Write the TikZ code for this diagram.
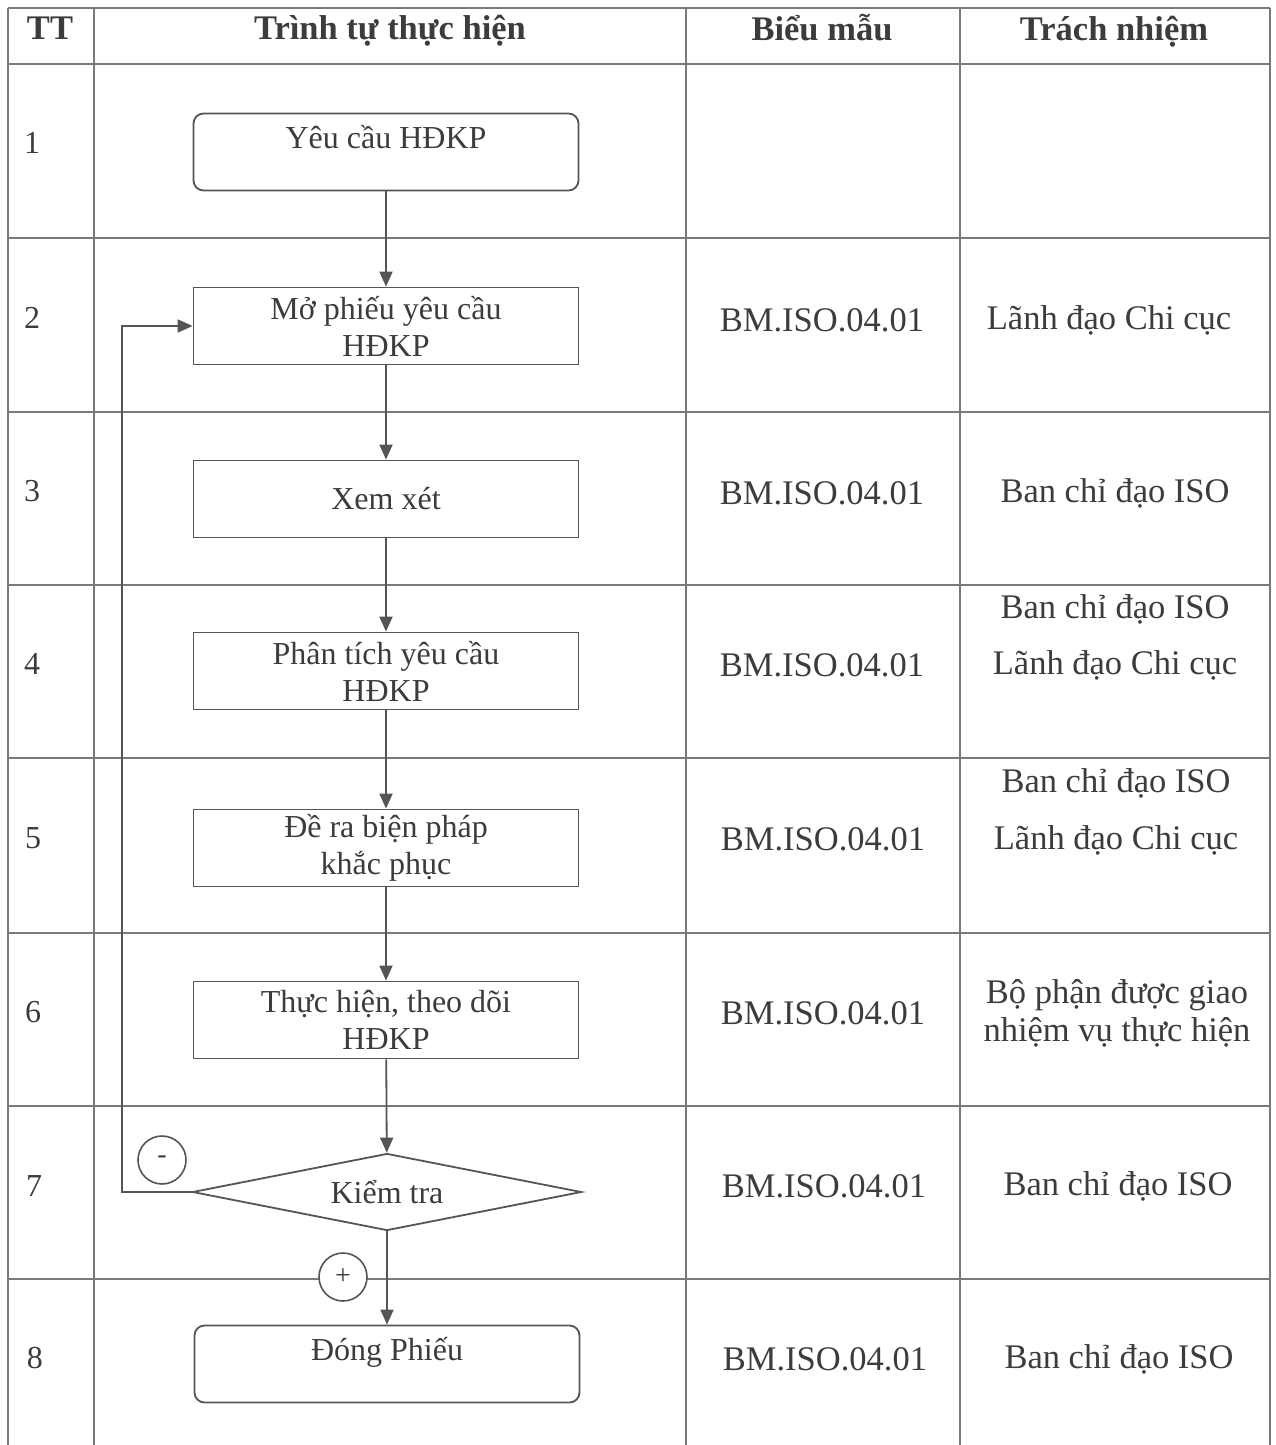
\documentclass[tikz,border=0pt]{standalone}
\usepackage{fontspec}
\setmainfont{Liberation Serif}
\usetikzlibrary{shapes.geometric,arrows.meta}
\definecolor{gridc}{HTML}{7A7A7A}
\definecolor{boxc}{HTML}{555555}
\definecolor{txtc}{HTML}{3C3C3C}
\begin{document}
\begin{tikzpicture}[x=1pt,y=-1pt,
  grid/.style={draw=gridc,line width=1.6pt},
  body/.style={text=txtc,font=\fontsize{32}{37}\selectfont,align=center,inner sep=0pt},
  cell/.style={text=txtc,font=\fontsize{34.5}{38}\selectfont,align=center,inner sep=0pt},
  head/.style={text=txtc,font=\bfseries\fontsize{34.5}{38}\selectfont,inner sep=0pt,anchor=base},
  proc/.style={draw=boxc,line width=1.8pt,minimum width=385pt,minimum height=77pt,inner sep=0pt,fill=white,body},
  term/.style={proc,rounded corners=10pt},
  decide/.style={draw=boxc,line width=1.8pt,shape=diamond,aspect=5,minimum width=389pt,minimum height=77pt,inner sep=0pt,fill=white,body},
  signmark/.style={draw=boxc,line width=1.6pt,circle,minimum size=48pt,inner sep=0pt,fill=white,text=txtc,font=\fontsize{28}{30}\selectfont},
  arr/.style={draw=boxc,line width=1.8pt,-{Triangle[length=15pt,width=13pt]}}
]
\useasboundingbox (0,0) rectangle (1276,1445);
\fill[white] (0,0) rectangle (1276,1445);
% table grid
\foreach \yy in {8,64,238,412,585,758,933,1106,1279}
  \draw[grid] (8,\yy) -- (1270,\yy);
\foreach \xx in {8,94,686,960,1270}
  \draw[grid] (\xx,8) -- (\xx,1445);
% header
\node[head] (hTT) at (50,40) {TT};
\node[head] (hTr) at (390,40) {Trình tự thực hiện};
\node[head] (hBM) at (822,41) {Biểu mẫu};
\node[head] (hTN) at (1114,41) {Trách nhiệm};
% row numbers
\node[body] (n1) at (32,143) {1};
\node[body] (n2) at (32,318) {2};
\node[body] (n3) at (32,491) {3};
\node[body] (n4) at (32,664) {4};
\node[body] (n5) at (33,838) {5};
\node[body] (n6) at (33,1012) {6};
\node[body] (n7) at (34,1186) {7};
\node[body] (n8) at (35,1358) {8};
% flow
\node[term] (b1) at (386,152) {Yêu cầu HĐKP\\[-18pt]\strut};
\node[proc] (b2) at (386,326) {Mở phiếu yêu cầu\\HĐKP};
\node[proc] (b3) at (386,499) {Xem xét};
\node[proc] (b4) at (386,671) {Phân tích yêu cầu\\HĐKP};
\node[proc] (b5) at (386,848) {Đề ra biện pháp\\khắc phục};
\node[proc] (b6) at (386,1020) {Thực hiện, theo dõi\\HĐKP};
\node[decide] (d7) at (387,1192) {Kiểm tra};
\node[term] (b8) at (387,1364) {Đóng Phiếu\\[-18pt]\strut};
\coordinate (loopx) at (122,0);
\draw[arr] (b1) -- (b2);
\draw[arr] (b2) -- (b3);
\draw[arr] (b3) -- (b4);
\draw[arr] (b4) -- (b5);
\draw[arr] (b5) -- (b6);
\draw[arr] (b6) -- (d7);
\draw[arr] (d7) -- (b8);
\draw[arr] (d7.west) -- (d7.west -| loopx) |- (b2.west);
\node[signmark] (minus) at (162,1160) {-};
\node[signmark] (plus) at (343,1277) {+};
% forms
\node[cell] (f2) at (822,320) {BM.ISO.04.01};
\node[cell] (f3) at (822,493) {BM.ISO.04.01};
\node[cell] (f4) at (822,665) {BM.ISO.04.01};
\node[cell] (f5) at (823,839) {BM.ISO.04.01};
\node[cell] (f6) at (823,1013) {BM.ISO.04.01};
\node[cell] (f7) at (824,1186) {BM.ISO.04.01};
\node[cell] (f8) at (825,1359) {BM.ISO.04.01};
% responsibility
\node[cell] (r2) at (1109,320) {Lãnh đạo Chi cục};
\node[cell] (r3) at (1115,493) {Ban chỉ đạo ISO};
\node[cell] (r4a) at (1115,609) {Ban chỉ đạo ISO};
\node[cell] (r4b) at (1115,665) {Lãnh đạo Chi cục};
\node[cell] (r5a) at (1116,783) {Ban chỉ đạo ISO};
\node[cell] (r5b) at (1116,840) {Lãnh đạo Chi cục};
\node[cell] (r6) at (1117,1013) {Bộ phận được giao\\nhiệm vụ thực hiện};
\node[cell] (r7) at (1118,1186) {Ban chỉ đạo ISO};
\node[cell] (r8) at (1119,1359) {Ban chỉ đạo ISO};
\end{tikzpicture}
\end{document}
